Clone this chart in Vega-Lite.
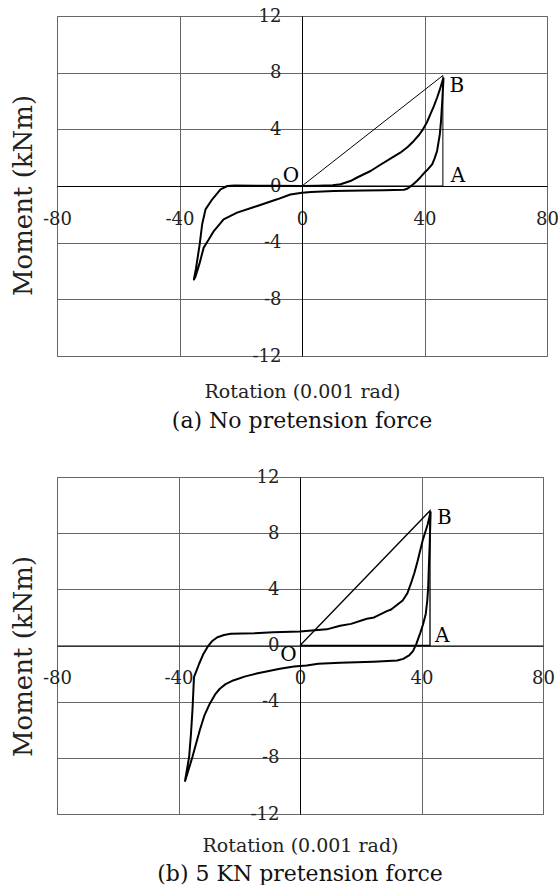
{
  "$schema": "https://vega.github.io/schema/vega-lite/v6.json",
  "padding": {"left": 9, "top": 6, "right": 0, "bottom": 0},
  "bounds": "flush",
  "spacing": 121,
  "config": {
    "view": {"stroke": "#888888", "strokeWidth": 1},
    "font": "DejaVu Serif",
    "background": "white"
  },
  "datasets": {
    "loopA": [
      {"i":0,"r":0,"m":0},{"i":1,"r":5,"m":0.02},{"i":2,"r":10,"m":0.05},{"i":3,"r":12.6,"m":0.12},{"i":4,"r":15.8,"m":0.35},{"i":5,"r":18,"m":0.6},{"i":6,"r":22.4,"m":1.06},{"i":7,"r":25.6,"m":1.5},{"i":8,"r":29,"m":1.95},{"i":9,"r":32.1,"m":2.35},{"i":10,"r":34.5,"m":2.75},{"i":11,"r":36.5,"m":3.18},{"i":12,"r":38.2,"m":3.6},{"i":13,"r":39.5,"m":4.0},{"i":14,"r":40.8,"m":4.5},{"i":15,"r":41.9,"m":5.06},{"i":16,"r":43,"m":5.6},{"i":17,"r":44.1,"m":6.23},{"i":18,"r":45,"m":6.8},{"i":19,"r":45.9,"m":7.45},{"i":20,"r":46.2,"m":7.6},
      {"i":21,"r":45.8,"m":6.0},{"i":22,"r":45.4,"m":4.6},{"i":23,"r":45,"m":3.65},{"i":24,"r":44.1,"m":2.47},{"i":25,"r":43.3,"m":1.95},{"i":26,"r":42.5,"m":1.53},{"i":27,"r":41,"m":1.15},{"i":28,"r":40,"m":0.95},{"i":29,"r":38.7,"m":0.62},{"i":30,"r":37.5,"m":0.35},{"i":31,"r":36.5,"m":0.16},{"i":32,"r":35.3,"m":-0.05},{"i":33,"r":34.3,"m":-0.2},{"i":34,"r":33.3,"m":-0.26},{"i":35,"r":26.7,"m":-0.3},{"i":36,"r":20,"m":-0.32},{"i":37,"r":10.4,"m":-0.35},{"i":38,"r":3,"m":-0.42},{"i":39,"r":0,"m":-0.47},
      {"i":40,"r":-3.8,"m":-0.6},{"i":41,"r":-8.1,"m":-0.94},{"i":42,"r":-14.6,"m":-1.41},{"i":43,"r":-21.2,"m":-1.88},{"i":44,"r":-25.6,"m":-2.35},{"i":45,"r":-28.8,"m":-3.18},{"i":46,"r":-30.5,"m":-3.8},{"i":47,"r":-32.1,"m":-4.35},{"i":48,"r":-33.5,"m":-5.5},{"i":49,"r":-34.8,"m":-6.4},{"i":50,"r":-35.3,"m":-6.6},
      {"i":51,"r":-34.6,"m":-5.8},{"i":52,"r":-33.4,"m":-4.1},{"i":53,"r":-32.6,"m":-2.7},{"i":54,"r":-31.5,"m":-1.65},{"i":55,"r":-29.3,"m":-0.94},{"i":56,"r":-26.6,"m":-0.24},{"i":57,"r":-24.4,"m":0},{"i":58,"r":-22,"m":0.03},{"i":59,"r":-10,"m":0.02},{"i":60,"r":0,"m":0}
    ],
    "triA": [
      {"i":0,"r":0,"m":0},{"i":1,"r":46,"m":7.8},{"i":2,"r":46,"m":0},{"i":3,"r":0,"m":0}
    ],
    "lblA": [
      {"r":-3.6,"m":0.7,"t":"O"},{"r":50.6,"m":7.06,"t":"B"},{"r":50.9,"m":0.7,"t":"A"}
    ],
    "loopB": [
      {"i":0,"r":-37.9,"m":-9.7},{"i":1,"r":-36.5,"m":-7.93},{"i":2,"r":-35.9,"m":-6.3},{"i":3,"r":-35.4,"m":-4.6},{"i":4,"r":-34.9,"m":-2.25},{"i":5,"r":-33.2,"m":-1.3},{"i":6,"r":-31.8,"m":-0.6},{"i":7,"r":-30.5,"m":-0.12},{"i":8,"r":-29,"m":0.3},{"i":9,"r":-27.2,"m":0.59},{"i":10,"r":-25,"m":0.75},{"i":11,"r":-22.8,"m":0.83},{"i":12,"r":-15,"m":0.88},{"i":13,"r":-8.8,"m":0.95},{"i":14,"r":0,"m":1.0},{"i":15,"r":8.8,"m":1.15},{"i":16,"r":13.2,"m":1.4},{"i":17,"r":16.8,"m":1.54},{"i":18,"r":22,"m":1.9},{"i":19,"r":24.4,"m":2.0},{"i":20,"r":28.6,"m":2.45},{"i":21,"r":30,"m":2.56},{"i":22,"r":33.8,"m":3.2},{"i":23,"r":35.3,"m":3.7},{"i":24,"r":36.5,"m":4.4},{"i":25,"r":37.7,"m":5.2},{"i":26,"r":38.7,"m":6.0},{"i":27,"r":40.4,"m":7.5},{"i":28,"r":42,"m":8.6},{"i":29,"r":43,"m":9.5},
      {"i":30,"r":42.7,"m":7.2},{"i":31,"r":42.4,"m":5.5},{"i":32,"r":42.2,"m":4.1},{"i":33,"r":41.9,"m":3.2},{"i":34,"r":41.4,"m":2.25},{"i":35,"r":40.5,"m":1.5},{"i":36,"r":39.6,"m":0.9},{"i":37,"r":38.3,"m":0.12},{"i":38,"r":37.2,"m":-0.4},{"i":39,"r":35.9,"m":-0.71},{"i":40,"r":34,"m":-0.95},{"i":41,"r":32,"m":-1.07},{"i":42,"r":24.2,"m":-1.15},{"i":43,"r":13.2,"m":-1.22},{"i":44,"r":6,"m":-1.3},{"i":45,"r":2.2,"m":-1.42},{"i":46,"r":-2,"m":-1.5},{"i":47,"r":-6.6,"m":-1.66},{"i":48,"r":-14.3,"m":-2.0},{"i":49,"r":-18,"m":-2.2},{"i":50,"r":-22,"m":-2.49},{"i":51,"r":-24.5,"m":-2.75},{"i":52,"r":-26.4,"m":-3.08},{"i":53,"r":-28,"m":-3.5},{"i":54,"r":-29.7,"m":-4.14},{"i":55,"r":-31.5,"m":-5.0},{"i":56,"r":-33,"m":-6.04},{"i":57,"r":-35.4,"m":-7.93},{"i":58,"r":-37.9,"m":-9.7}
    ],
    "triB": [
      {"i":0,"r":0,"m":0},{"i":1,"r":42.8,"m":9.6},{"i":2,"r":42.8,"m":0},{"i":3,"r":0,"m":0}
    ],
    "lblB": [
      {"r":-3.8,"m":-0.7,"t":"O"},{"r":47.5,"m":9.1,"t":"B"},{"r":46.8,"m":0.7,"t":"A"}
    ]
  },
  "vconcat": [
    {
      "width": 490,
      "height": 340,
      "title": {"text": "(a)  No pretension force", "orient": "bottom", "anchor": "middle", "frame": "group", "font": "DejaVu Serif", "fontSize": 22, "fontWeight": "normal", "color": "#111111", "offset": 10},
      "encoding": {
        "x": {"field": "r", "type": "quantitative", "scale": {"domain": [-80, 80], "nice": false, "zero": false},
          "axis": {"values": [-80, -40, 0, 40, 80], "labelExpr": "datum.value + ''", "orient": "bottom", "offset": -170, "grid": true, "gridColor": "#666666", "gridWidth": 1, "gridOpacity": 1, "domain": true, "domainColor": "#000000", "domainWidth": 1, "ticks": false, "labelFont": "DejaVu Serif", "labelFontSize": 18, "labelColor": "#222222", "labelPadding": 24, "labelFlush": false, "labelOverlap": false, "labelBaseline": "top", "title": "Rotation (0.001 rad)", "titleFont": "DejaVu Serif", "titleFontSize": 19, "titleFontWeight": "normal", "titleColor": "#222222", "titleX": 245, "titleY": 205, "titleAlign": "center", "titleBaseline": "middle"}},
        "y": {"field": "m", "type": "quantitative", "scale": {"domain": [-12, 12], "nice": false, "zero": false},
          "axis": {"values": [-12, -8, -4, 0, 4, 8, 12], "labelExpr": "datum.value + ''", "orient": "left", "offset": -245, "grid": true, "gridColor": "#666666", "gridWidth": 1, "gridOpacity": 1, "domain": true, "domainColor": "#000000", "domainWidth": 1, "ticks": false, "labelFont": "DejaVu Serif", "labelFontSize": 18, "labelColor": "#222222", "labelPadding": 21, "labelFlush": false, "labelOverlap": false, "labelBaseline": "middle", "title": "Moment (kNm)", "titleFont": "DejaVu Serif", "titleFontSize": 26, "titleFontWeight": "normal", "titleColor": "#222222", "titleX": -279, "titleY": 179, "titleAngle": 270, "titleAlign": "center", "titleBaseline": "middle"}}
      },
      "layer": [
        {"data": {"name": "triA"}, "mark": {"type": "line", "color": "#000000", "strokeWidth": 1}, "encoding": {"order": {"field": "i", "type": "quantitative"}}},
        {"data": {"name": "loopA"}, "mark": {"type": "line", "color": "#000000", "strokeWidth": 2, "strokeJoin": "round"}, "encoding": {"order": {"field": "i", "type": "quantitative"}}},
        {"data": {"name": "lblA"}, "mark": {"type": "text", "font": "DejaVu Serif", "fontSize": 20, "color": "#000000", "align": "center", "baseline": "middle"}, "encoding": {"text": {"field": "t", "type": "nominal"}}}
      ]
    },
    {
      "width": 486,
      "height": 337,
      "title": {"text": "(b)  5 KN pretension force", "orient": "bottom", "anchor": "middle", "frame": "group", "font": "DejaVu Serif", "fontSize": 22, "fontWeight": "normal", "color": "#111111", "offset": 8},
      "encoding": {
        "x": {"field": "r", "type": "quantitative", "scale": {"domain": [-80, 80], "nice": false, "zero": false},
          "axis": {"values": [-80, -40, 0, 40, 80], "labelExpr": "datum.value + ''", "orient": "bottom", "offset": -168.5, "grid": true, "gridColor": "#666666", "gridWidth": 1, "gridOpacity": 1, "domain": true, "domainColor": "#000000", "domainWidth": 1, "ticks": false, "labelFont": "DejaVu Serif", "labelFontSize": 18, "labelColor": "#222222", "labelPadding": 24, "labelFlush": false, "labelOverlap": false, "labelBaseline": "top", "title": "Rotation (0.001 rad)", "titleFont": "DejaVu Serif", "titleFontSize": 19, "titleFontWeight": "normal", "titleColor": "#222222", "titleX": 243, "titleY": 200, "titleAlign": "center", "titleBaseline": "middle"}},
        "y": {"field": "m", "type": "quantitative", "scale": {"domain": [-12, 12], "nice": false, "zero": false},
          "axis": {"values": [-12, -8, -4, 0, 4, 8, 12], "labelExpr": "datum.value + ''", "orient": "left", "offset": -243, "grid": true, "gridColor": "#666666", "gridWidth": 1, "gridOpacity": 1, "domain": true, "domainColor": "#000000", "domainWidth": 1, "ticks": false, "labelFont": "DejaVu Serif", "labelFontSize": 18, "labelColor": "#222222", "labelPadding": 21, "labelFlush": false, "labelOverlap": false, "labelBaseline": "middle", "title": "Moment (kNm)", "titleFont": "DejaVu Serif", "titleFontSize": 26, "titleFontWeight": "normal", "titleColor": "#222222", "titleX": -277, "titleY": 179, "titleAngle": 270, "titleAlign": "center", "titleBaseline": "middle"}}
      },
      "layer": [
        {"data": {"name": "triB"}, "mark": {"type": "line", "color": "#000000", "strokeWidth": 1.3}, "encoding": {"order": {"field": "i", "type": "quantitative"}}},
        {"data": {"name": "loopB"}, "mark": {"type": "line", "color": "#000000", "strokeWidth": 2, "strokeJoin": "round"}, "encoding": {"order": {"field": "i", "type": "quantitative"}}},
        {"data": {"name": "lblB"}, "mark": {"type": "text", "font": "DejaVu Serif", "fontSize": 20, "color": "#000000", "align": "center", "baseline": "middle"}, "encoding": {"text": {"field": "t", "type": "nominal"}}}
      ]
    }
  ]
}
